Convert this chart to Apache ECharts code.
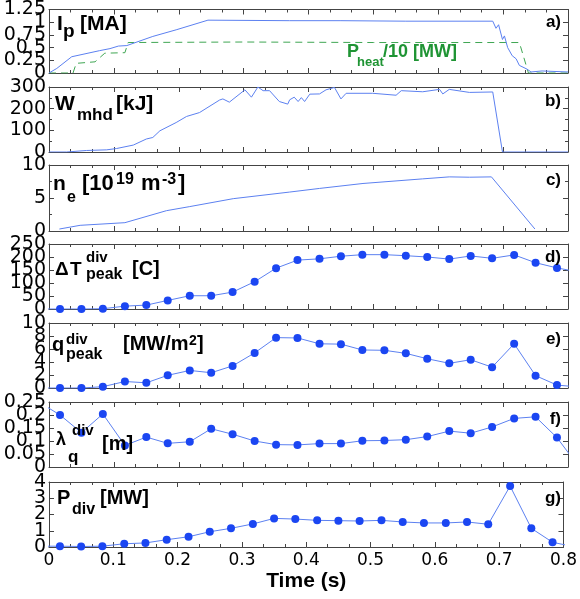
<!DOCTYPE html>
<html><head><meta charset="utf-8">
<script src="https://cdn.jsdelivr.net/npm/echarts@6/dist/echarts.min.js"></script>
<style>html,body{margin:0;padding:0;background:#fff}#c{width:580px;height:599px}</style>
</head><body><div id="c"></div>
<script>
// ---- data ----
const tIp = [0, 0.012, 0.035, 0.078, 0.094, 0.107, 0.12, 0.16, 0.196, 0.245, 0.371, 0.45, 0.55, 0.684, 0.689, 0.693, 0.699, 0.702, 0.707, 0.714, 0.72, 0.725, 0.737, 0.743, 0.76, 0.8];
const ip  = [0, 0.09, 0.32, 0.44, 0.48, 0.53, 0.54, 0.72, 0.85, 1.04, 1.03, 1.03, 1.02, 1.02, 0.88, 0.95, 0.66, 0.73, 0.5, 0.34, 0.28, 0.15, 0.075, 0.02, 0.04, 0.02];
const tPh = [0, 0.037, 0.042, 0.071, 0.086, 0.117, 0.122, 0.3, 0.5, 0.725, 0.739, 0.8];
const pHeat10 = [0, 0, 0.19, 0.22, 0.39, 0.40, 0.6, 0.61, 0.6, 0.6, 0, 0];
const tW = [0, 0.027, 0.058, 0.089, 0.104, 0.13, 0.15, 0.16, 0.171, 0.196, 0.212, 0.232, 0.263, 0.268, 0.278, 0.302, 0.312, 0.322, 0.33, 0.34, 0.355, 0.368, 0.371, 0.378, 0.384, 0.389, 0.394, 0.402, 0.417, 0.427, 0.44, 0.45, 0.458, 0.499, 0.535, 0.543, 0.576, 0.602, 0.607, 0.617, 0.648, 0.684, 0.699, 0.8];
const wMhd = [0, 0, 7, 10, 16, 32, 60, 67, 98, 136, 164, 182, 240, 245, 230, 287, 253, 300, 283, 283, 233, 221, 241, 253, 233, 251, 233, 267, 268, 287, 298, 245, 271, 271, 262, 283, 278, 289, 268, 289, 275, 277, 0, 0];
const tNe = [0.016, 0.048, 0.117, 0.181, 0.217, 0.284, 0.371, 0.417, 0.484, 0.576, 0.617, 0.648, 0.682, 0.749];
const ne  = [0.3, 0.86, 1.26, 3.08, 3.7, 4.9, 5.9, 6.45, 7.2, 7.9, 8.2, 8.15, 8.2, 0.3];
const tDiv = [-0.017, 0.017, 0.05, 0.083, 0.117, 0.15, 0.183, 0.217, 0.25, 0.283, 0.317, 0.35, 0.383, 0.417, 0.45, 0.483, 0.517, 0.55, 0.583, 0.617, 0.65, 0.683, 0.717, 0.75, 0.783, 0.817];
const dTpeak  = [0, 0, 0, 1, 11, 15, 33, 51, 51, 65, 105, 157, 188, 193, 203, 209, 209, 205, 200, 192, 204, 195, 208, 178, 158, 142];
const qPeak   = [0, 0, 0, 0.2, 1.0, 0.8, 1.95, 2.7, 2.35, 3.4, 5.4, 7.75, 7.7, 6.8, 6.75, 5.85, 5.8, 5.33, 4.5, 3.8, 4.35, 3.2, 6.8, 1.9, 0.45, 0.15];
const lambdaQ = [0.252, 0.2, 0.132, 0.204, 0.083, 0.115, 0.091, 0.097, 0.147, 0.126, 0.1, 0.086, 0.085, 0.09, 0.09, 0.101, 0.102, 0.105, 0.117, 0.138, 0.13, 0.154, 0.187, 0.193, 0.113, 0.0];
const pDiv    = [0.05, 0.05, 0.03, 0.05, 0.2, 0.25, 0.45, 0.63, 0.94, 1.15, 1.42, 1.76, 1.72, 1.64, 1.62, 1.6, 1.64, 1.54, 1.48, 1.48, 1.54, 1.4, 3.75, 1.15, 0.29, 0.01];
const xTicks = {min: 0, max: 0.8, interval: 0.1};
const yMax = [1.25, 300, 10, 250, 10, 0.25, 4];
const yStep = [0.25, 100, 5, 50, 2, 0.05, 1];
const panelTags = ['a)', 'b)', 'c)', 'd)', 'e)', 'f)', 'g)'];

// ---- layout ----
const tops = [7, 87, 165, 244, 323, 402, 482];
const heights = [66, 65, 66, 65, 65, 65, 65];
const tagY = [22, 101, 180, 257, 339, 419, 498];
const minorY = [false, true, true, false, false, false, false];
const frame = '#444';
const lineBlue = '#5c80f0';
const dotBlue = '#1b46f2';
const pair = (xs, ys) => xs.map((x, i) => [x, ys[i]]);
const labelFont = {margin: 3, color: '#000', fontSize: 19, fontFamily: 'DejaVu Sans', hideOverlap: false,
  showMinLabel: true, showMaxLabel: true};
const LAB = 3; // label axes per panel (tick labels interleaved so crowded labels all stay visible)
const PER = LAB + 1;

const grid = [], xAxis = [], yAxis = [];
tops.forEach((t, i) => {
  grid.push({left: 49, right: 12, top: t, height: heights[i]});
  const last = i === tops.length - 1;
  ['bottom', 'top'].forEach((pos, k) => {
    xAxis.push({
      type: 'value', gridIndex: i, position: pos, min: xTicks.min, max: xTicks.max, interval: xTicks.interval,
      axisLine: {show: true, onZero: false, lineStyle: {color: frame, width: 1}},
      axisTick: {show: true, inside: true, length: 5, lineStyle: {color: frame}},
      minorTick: {show: true, splitNumber: 3, length: 3, lineStyle: {color: frame}},
      splitLine: {show: false}, minorSplitLine: {show: false},
      axisLabel: {show: last && k === 0, margin: 5, color: '#000', fontSize: 17, fontFamily: 'DejaVu Sans',
        showMinLabel: true, showMaxLabel: true, hideOverlap: false},
      name: (last && k === 0) ? 'Time (s)' : '',
      nameLocation: 'middle', nameGap: 24,
      nameTextStyle: {fontSize: 21, fontWeight: 'bold', color: '#000', fontFamily: 'Liberation Sans'}
    });
  });
  const n = Math.round(yMax[i] / yStep[i]);
  const sets = [];
  for (let s = 0; s < LAB; s++) sets.push([]);
  for (let k = 0; k <= n; k++) sets[k % LAB].push(+(k * yStep[i]).toFixed(4));
  const base = {type: 'value', gridIndex: i, min: 0, max: yMax[i], interval: yStep[i],
    splitLine: {show: false}, minorSplitLine: {show: false}};
  sets.forEach((vals, s) => {
    const main = s === 0;
    yAxis.push(Object.assign({}, base, {position: 'left',
      axisLine: {show: main, onZero: false, lineStyle: {color: frame, width: 1}},
      axisTick: {show: main, inside: true, length: 5, lineStyle: {color: frame}},
      minorTick: {show: main && minorY[i], splitNumber: 2, length: 3, lineStyle: {color: frame}},
      axisLabel: Object.assign({show: vals.length > 0, customValues: vals.length ? vals : [0]}, labelFont)}));
  });
  yAxis.push(Object.assign({}, base, {position: 'right',
    axisLine: {show: true, onZero: false, lineStyle: {color: frame, width: 1}},
    axisTick: {show: true, inside: true, length: 5, lineStyle: {color: frame}},
    minorTick: {show: minorY[i], splitNumber: 2, length: 3, lineStyle: {color: frame}},
    axisLabel: {show: false}}));
});

function lineSeries(i, xs, ys, extra) {
  return Object.assign({
    type: 'line', xAxisIndex: 2 * i, yAxisIndex: PER * i, data: pair(xs, ys),
    symbol: 'none', lineStyle: {color: lineBlue, width: 1}, clip: true, animation: false, z: 3
  }, extra || {});
}
function dotSeries(i, ys) {
  return lineSeries(i, tDiv, ys, {symbol: 'circle', symbolSize: 8, showAllSymbol: true,
    itemStyle: {color: dotBlue}});
}
const series = [
  lineSeries(0, tPh, pHeat10, {lineStyle: {color: '#3fa653', width: 1, type: [7, 5]}}),
  lineSeries(0, tIp, ip),
  lineSeries(1, tW, wMhd),
  lineSeries(2, tNe, ne),
  dotSeries(3, dTpeak),
  dotSeries(4, qPeak),
  dotSeries(5, lambdaQ),
  dotSeries(6, pDiv)
];

// ---- panel labels (text pieces) ----
function T(text, x, base, size, c, w) {
  return {type: 'text', x: x, y: base - 0.35 * size, z: 100,
    style: {text: text, font: (w || 'bold') + ' ' + size + 'px "Liberation Sans", Arial, sans-serif',
      fill: c || '#000', align: 'left', verticalAlign: 'middle'}};
}
const green = '#1f9434';
const graphic = [
  T('I', 57, 32, 21), T('p', 63, 38, 19), T('[MA]', 80, 32, 21),
  T('P', 347, 58, 18, green), T('heat', 357, 66.5, 13, green), T('/10 [MW]', 383, 58, 18, green),
  T('W', 55, 112, 21), T('mhd', 77, 121, 17), T('[kJ]', 116, 112, 21),
  T('n', 53, 192, 21), T('e', 67, 203, 16), T('[10', 82, 192, 22), T('19', 116, 185, 16),
  T('m', 141, 192, 22), T('-3', 162, 185, 16), T(']', 178, 192, 22),
  T('\u0394', 55, 276, 19), T('T', 70, 276, 19), T('div', 86, 263, 15), T('peak', 86, 280, 16), T('[C]', 132, 276, 20),
  T('q', 52, 352, 20), T('div', 66, 345, 15), T('peak', 66, 360, 16), T('[MW/m', 123, 351, 20), T('2', 189, 346, 14), T(']', 197, 351, 20),
  T('\u03bb', 56, 446, 18), T('div', 72, 436, 15), T('q', 68, 463, 17), T('[m]', 102, 451, 20),
  T('P', 57, 505, 20), T('div', 72, 515, 16), T('[MW]', 100, 505, 20)
];
panelTags.forEach((s, i) => {
  graphic.push({type: 'text', x: 561, y: tagY[i], z: 100,
    style: {text: s, font: 'bold 17px "Liberation Sans", Arial, sans-serif', fill: '#000', align: 'right', verticalAlign: 'middle'}});
});

const chart = echarts.init(document.getElementById('c'), null, {renderer: 'canvas'});
chart.setOption({animation: false, backgroundColor: '#fff', grid, xAxis, yAxis, series, graphic});
</script></body></html>
